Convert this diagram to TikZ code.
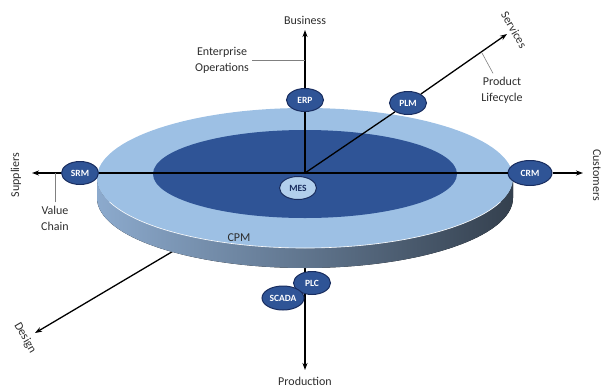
\documentclass[tikz,border=0pt]{standalone}
\usepackage{fontspec}
\setmainfont{Carlito}
\usetikzlibrary{positioning,shapes.geometric,arrows.meta}

\definecolor{ringblue}{RGB}{157,192,228}
\definecolor{coreblue}{RGB}{47,84,150}
\definecolor{rimblue}{RGB}{25,45,95}
\definecolor{mesblue}{RGB}{178,207,236}
\definecolor{sidelight}{RGB}{140,170,205}
\definecolor{sidedark}{RGB}{52,64,78}
\definecolor{labelgray}{RGB}{45,45,45}

\begin{document}
\begin{tikzpicture}[
    x=1pt,y=-1pt,
    >={Stealth[length=7pt,width=5pt]},
    system/.style={ellipse,draw=rimblue,fill=coreblue,line width=1pt,text=white,
      font=\bfseries\fontsize{9.5}{10}\selectfont,inner sep=0pt,
      minimum width=37,minimum height=23},
    axislabel/.style={text=labelgray,font=\fontsize{12}{16}\selectfont,align=center},
    axis/.style={line width=1.3pt},
    leader/.style={gray,line width=0.6pt}
    ]

    \useasboundingbox (0,0) rectangle (604,391);

    % axis ends
    \coordinate (o) at (305,173);
    \coordinate (business) at (305,30);
    \coordinate (production) at (305,370);
    \coordinate (suppliers) at (32,173);
    \coordinate (customers) at (583,173);
    \coordinate (services) at (507,34);
    \coordinate (design) at (35,333);

    % axes under the disc
    \draw[axis,->] (o) -- (production);
    \draw[axis,->] (o) -- (design);

    % disc
    \fill[left color=sidelight,right color=sidedark]
      (97,178) arc[start angle=180,end angle=0,x radius=208,y radius=70]
      -- (513,198) arc[start angle=0,end angle=180,x radius=208,y radius=70] -- cycle;
    \fill[ringblue] (305,178) ellipse[x radius=208,y radius=70];
    \draw[white,line width=0.6pt] (305,178) ++(160:208 and 70)
      arc[start angle=160,end angle=20,x radius=208,y radius=70];
    \fill[coreblue] (305,174) ellipse[x radius=152,y radius=44];

    % systems
    \node (ERP) [system] at (305,100) {ERP};
    \node (PLM) [system] at (408,103) {PLM};
    \node (SRM) [system] at (80,173) {SRM};
    \node (CRM) [system,minimum width=44,minimum height=25] at (530,173) {CRM};
    \node (MES) [system,fill=mesblue,text=rimblue] at (298,188) {MES};
    \node (PLC) [system] at (312,283) {PLC};
    \node (SCADA) [system,minimum width=42,minimum height=24] at (283,298) {SCADA};

    % axes over the disc
    \draw[axis] (o) -- (ERP);
    \draw[axis,->] (ERP) -- (business);
    \draw[axis] (o) -- (PLM);
    \draw[axis,->] (PLM) -- (services);
    \draw[axis] (SRM) -- (CRM);
    \draw[axis,->] (SRM) -- (suppliers);
    \draw[axis,->] (CRM) -- (customers);

    % labels
    \node (businesslbl) [axislabel,above=2pt of business] {Business};
    \node (productionlbl) [axislabel,below=4pt of production] {Production};
    \node (supplierslbl) [axislabel,rotate=90] at (16,175) {Suppliers};
    \node (customerslbl) [axislabel,rotate=-90] at (597,175) {Customers};
    \node (serviceslbl) [axislabel,rotate=-60] at (514,30) {Services};
    \node (designlbl) [axislabel,rotate=-60] at (25,338) {Design};
    \node (cpm) [axislabel] at (239,238) {CPM};

    \node (entops) [axislabel] at (222,60) {Enterprise\\Operations};
    \coordinate (entpt) at (305,60);
    \draw[leader] (entops) -- (entpt);

    \node (prodlc) [axislabel] at (502,90) {Product\\Lifecycle};
    \coordinate (prodpt) at (482,53);
    \draw[leader] (prodlc) -- (prodpt);

    \node (valchain) [axislabel] at (55,218) {Value\\Chain};
    \coordinate (valpt) at (55,173);
    \draw[leader] (valchain) -- (valpt);

  \end{tikzpicture}
\end{document}
